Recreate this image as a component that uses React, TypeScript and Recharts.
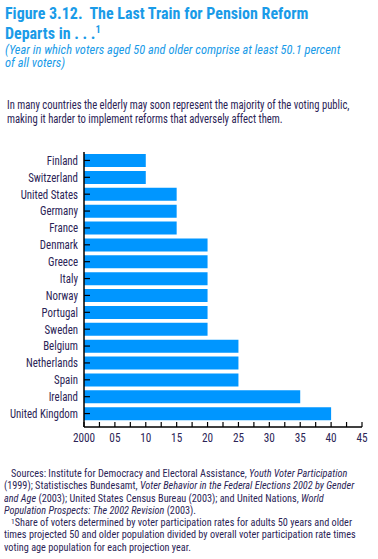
import React from 'react';
import { Bar, BarChart, XAxis, YAxis } from 'recharts';

const countries = [
  'Finland',
  'Switzerland',
  'United States',
  'Germany',
  'France',
  'Denmark',
  'Greece',
  'Italy',
  'Norway',
  'Portugal',
  'Sweden',
  'Belgium',
  'Netherlands',
  'Spain',
  'Ireland',
  'United Kingdom',
];

// years after 2000
const yearsFrom2000 = [10, 10, 15, 15, 15, 20, 20, 20, 20, 20, 20, 25, 25, 25, 35, 40];

const xTicks = [0, 2.5, 5, 7.5, 10, 12.5, 15, 17.5, 20, 22.5, 25, 27.5, 30, 32.5, 35, 37.5, 40, 42.5, 45];
const xTickLabels: Record<number, string> = {
  0: '2000',
  5: '05',
  10: '10',
  15: '15',
  20: '20',
  25: '25',
  30: '30',
  35: '35',
  40: '40',
  45: '45',
};

const data = countries.map((name, i) => ({ name, year: yearsFrom2000[i] }));

const FONT = "'Roboto Condensed', 'Liberation Sans Narrow', 'Arial Narrow', 'Liberation Sans', Arial, sans-serif";
const BLUE = '#1a9be8';
const INK = '#2b2456';

// narrow text by squeezing horizontally
function squeeze(sx: number): React.CSSProperties {
  return { transform: `scaleX(${sx})`, transformOrigin: '0 0' };
}

function CountryTick(props: any) {
  const { x, y, payload } = props;
  return (
    <text
      transform={`translate(${x},${y}) scale(0.87,1)`}
      textAnchor="end"
      dy="0.35em"
      fill={INK}
      fontSize={12.5}
      fontFamily={FONT}
    >
      {payload.value}
    </text>
  );
}

function YearTick(props: any) {
  const { x, y, payload } = props;
  const label = xTickLabels[payload.value] ?? '';
  if (!label) return <g />;
  return (
    <text
      transform={`translate(${x},${y}) scale(0.9,1)`}
      textAnchor="middle"
      dy="0.71em"
      fill={INK}
      fontSize={12.5}
      fontFamily={FONT}
    >
      {label}
    </text>
  );
}

export default function App() {
  return (
    <div
      style={{
        position: 'absolute',
        left: 0,
        top: 0,
        width: 378,
        height: 559,
        background: '#fff',
        fontFamily: FONT,
        overflow: 'hidden',
      }}
    >
      <div
        style={{
          position: 'absolute',
          left: 5,
          top: 3,
          fontSize: 17,
          lineHeight: '20px',
          fontWeight: 700,
          color: BLUE,
          whiteSpace: 'pre',
          ...squeeze(0.94),
        }}
      >
        {'Figure 3.12.  The Last Train for Pension Reform\nDeparts in . . .'}
        <sup style={{ fontSize: 11, verticalAlign: 'top', lineHeight: '14px' }}>1</sup>
      </div>
      <div
        style={{
          position: 'absolute',
          left: 5,
          top: 44,
          fontSize: 12,
          lineHeight: '13px',
          fontStyle: 'italic',
          color: BLUE,
          whiteSpace: 'pre',
          ...squeeze(1.035),
        }}
      >
        {'(Year in which voters aged 50 and older comprise at least 50.1 percent\nof all voters)'}
      </div>
      <div
        style={{
          position: 'absolute',
          left: 7,
          top: 98,
          fontSize: 12,
          lineHeight: '14px',
          color: INK,
          whiteSpace: 'pre',
          ...squeeze(0.885),
        }}
      >
        {'In many countries the elderly may soon represent the majority of the voting public,\nmaking it harder to implement reforms that adversely affect them.'}
      </div>

      <div style={{ position: 'absolute', left: 0, top: 152 }}>
        <BarChart
          width={378}
          height={300}
          data={data}
          layout="vertical"
          margin={{ top: 0, right: 16, bottom: 0, left: 0 }}
          barSize={13}
        >
          <XAxis
            type="number"
            dataKey="year"
            domain={[0, 45]}
            ticks={xTicks}
            interval={0}
            height={25}
            axisLine={{ stroke: '#000', strokeWidth: 1.5 }}
            tickLine={{ stroke: '#000', strokeWidth: 1.2 }}
            tickSize={-5}
            tickMargin={11}
            tick={<YearTick />}
          />
          <YAxis
            type="category"
            dataKey="name"
            width={84}
            interval={0}
            padding={{ top: 0, bottom: 5 }}
            axisLine={{ stroke: '#000', strokeWidth: 1.5 }}
            tickLine={{ stroke: '#000', strokeWidth: 1.2 }}
            tickSize={-6}
            tickMargin={12}
            tick={<CountryTick />}
          />
          <Bar dataKey="year" fill="#0096ff" isAnimationActive={false} />
        </BarChart>
      </div>

      <div
        style={{
          position: 'absolute',
          left: 4,
          top: 468,
          fontSize: 11,
          lineHeight: '12.3px',
          color: INK,
          whiteSpace: 'pre',
          ...squeeze(0.93),
        }}
      >
        {'   Sources: Institute for Democracy and Electoral Assistance, '}
        <i>Youth Voter Participation</i>
        {'\n(1999); Statistisches Bundesamt, '}
        <i>Voter Behavior in the Federal Elections 2002 by Gender</i>
        {'\n'}
        <i>and Age</i>
        {' (2003); United States Census Bureau (2003); and United Nations, '}
        <i>World</i>
        {'\n'}
        <i>Population Prospects: The 2002 Revision</i>
        {' (2003).\n   '}
        <sup style={{ fontSize: 8, verticalAlign: 'top', lineHeight: '10px' }}>1</sup>
        {'Share of voters determined by voter participation rates for adults 50 years and older\ntimes projected 50 and older population divided by overall voter participation rate times\nvoting age population for each projection year.'}
      </div>
    </div>
  );
}
